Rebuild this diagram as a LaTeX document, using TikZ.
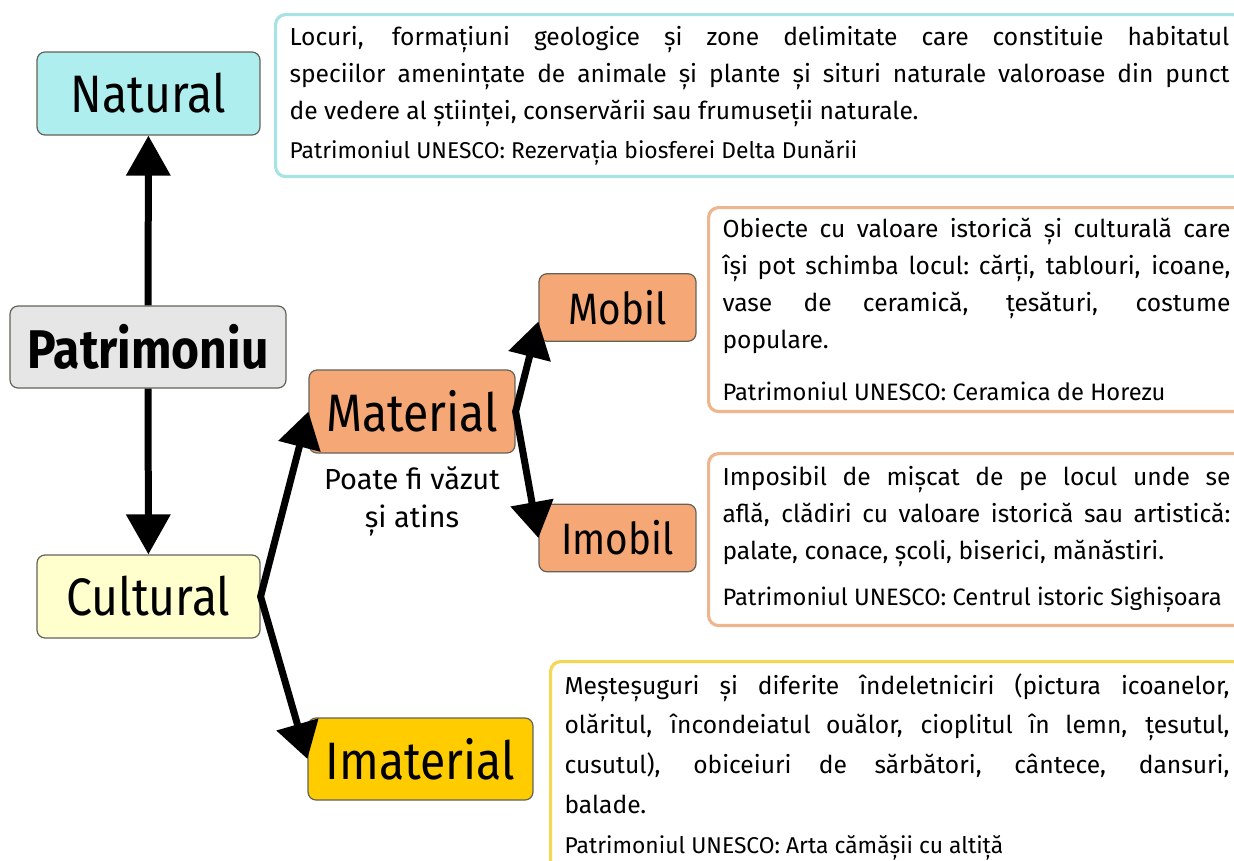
\documentclass[tikz,border=0pt]{standalone}
\usepackage{fontspec}
\setmainfont{Fira Sans}
\newfontfamily\labelfont{Fira Sans}[FakeStretch=0.88]
\usetikzlibrary{arrows.meta,positioning}
\definecolor{NatCyan}{RGB}{175,238,238}
\definecolor{NatLine}{RGB}{166,227,227}
\definecolor{PatGray}{RGB}{230,230,230}
\definecolor{CultYellow}{RGB}{255,255,206}
\definecolor{MatOrange}{RGB}{245,167,117}
\definecolor{MatLine}{RGB}{238,182,142}
\definecolor{ImatGold}{RGB}{255,204,0}
\definecolor{ImatLine}{RGB}{246,214,82}
\definecolor{BoxEdge}{RGB}{100,98,88}
% one justified line of a given width
\newcommand{\fullline}[2]{\noindent\hbox to #1{\spaceskip=0.25em plus 1fil\xspaceskip=\spaceskip #2}}

\begin{document}
\begin{tikzpicture}[x=0.02cm,y=-0.02cm,
  catbox/.style={draw=BoxEdge,line width=0.7pt,rounded corners=0.16cm,inner sep=0pt,
                 minimum width=4.46cm,minimum height=1.66cm,
                 font=\labelfont\fontsize{30}{36}\selectfont},
  subbox/.style={catbox,fill=MatOrange,minimum width=3.14cm,minimum height=1.35cm,
                 font=\labelfont\fontsize{25}{30}\selectfont},
  descbox/.style={draw=#1,line width=1.8pt,fill=white,rounded corners=0.2cm,
                  anchor=north west,inner xsep=0.28cm,inner ysep=0pt,align=justify,
                  font=\fontsize{14}{21}\selectfont},
  link/.style={line width=0.14cm,-{Triangle[length=0.8cm,width=0.86cm]}},
  fork/.style={line width=0.14cm,line join=round,
               {Triangle[length=0.72cm,width=0.84cm]}-{Triangle[length=0.72cm,width=0.84cm]}},
]
\path[use as bounding box,fill=white] (0,0) rectangle (1234,860);

% main tree
\node[catbox,fill=PatGray,minimum width=5.52cm,minimum height=1.64cm,
      font=\labelfont\bfseries\fontsize{31}{36}\selectfont] (patrimoniu) at (148,347) {Patrimoniu};
\node[catbox,fill=NatCyan] (natural) at (148.5,93.5) {Natural};
\node[catbox,fill=CultYellow] (cultural) at (148.5,596.5) {Cultural};
\node[catbox,fill=MatOrange,minimum width=4.12cm] (material) at (412,411.5) {Material};
\node[catbox,fill=ImatGold,minimum width=4.5cm,minimum height=1.64cm] (imaterial) at (420.5,759) {Imaterial};
\node[subbox] (mobil) at (617.5,307.5) {Mobil};
\node[subbox] (imobil) at (617.5,538) {Imobil};
\node[below=0.14cm of material,align=center,font=\fontsize{16.5}{21.6}\selectfont] (materialnote)
  {Poate fi văzut\\și atins};

% descriptions
\node[descbox=NatLine,text width=18.8cm,minimum height=3.24cm] (naturaltext) at (274,13)
  {\fullline{18.8cm}{Locuri, formațiuni geologice și zone delimitate care constituie habitatul}\\
   \fullline{18.8cm}{speciilor amenințate de animale și plante și situri naturale valoroase din punct}\\
   de vedere al științei, conservării sau frumuseții naturale.\\[1pt]
   {\fontsize{13}{15}\selectfont Patrimoniul UNESCO: Rezervația biosferei Delta Dunării}};
\node[descbox=MatLine,text width=10.16cm,minimum height=4.08cm] (mobiltext) at (707,206)
  {\fullline{10.16cm}{Obiecte cu valoare istorică și culturală care}\\
   \fullline{10.16cm}{își pot schimba locul: cărți, tablouri, icoane,}\\
   \fullline{10.16cm}{vase de ceramică, țesături, costume}\\
   populare.\\[9pt]
   {\fontsize{13.5}{16}\selectfont Patrimoniul UNESCO: Ceramica de Horezu}};
\node[descbox=MatLine,text width=10.16cm,minimum height=3.44cm] (imobiltext) at (707,452)
  {\fullline{10.16cm}{Imposibil de mișcat de pe locul unde se}\\
   \fullline{10.16cm}{află, clădiri cu valoare istorică sau artistică:}\\
   palate, conace, școli, biserici, mănăstiri.\\[5pt]
   {\fontsize{13.5}{16}\selectfont Patrimoniul UNESCO: Centrul istoric Sighișoara}};
\node[descbox=ImatLine,text width=13.3cm,minimum height=4.2cm,
      font=\fontsize{14}{22.6}\selectfont] (imaterialtext) at (549,660)
  {\fullline{13.3cm}{Meșteșuguri și diferite îndeletniciri (pictura icoanelor,}\\
   \fullline{13.3cm}{olăritul, încondeiatul ouălor, cioplitul în lemn, țesutul,}\\
   \fullline{13.3cm}{cusutul), obiceiuri de sărbători, cântece, dansuri,}\\
   balade.\\[0pt]
   {\fontsize{13}{15}\selectfont Patrimoniul UNESCO: Arta cămășii cu altiță}};

% connectors
\draw[link] (patrimoniu) -- (natural);
\draw[link] (patrimoniu) -- (cultural);
\draw[fork] (material.west) -- (cultural.east) -- (imaterial.west);
\draw[fork] (mobil.190) -- (material.east) -- (imobil.west);
\end{tikzpicture}
\end{document}
